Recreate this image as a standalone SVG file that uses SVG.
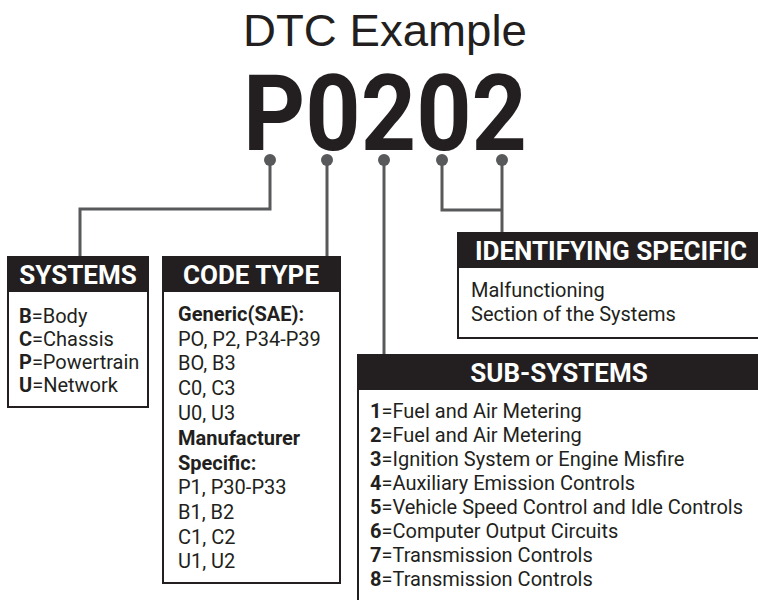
<svg xmlns="http://www.w3.org/2000/svg" width="758" height="600" viewBox="0 0 758 600">
<style>
.bg{fill:#ffffff}
.box{fill:#ffffff;stroke:#231f20;stroke-width:2}
.hdr{fill:#231f20}
.ht{font-family:Roboto,"Liberation Sans",sans-serif;font-weight:bold;font-size:26px;fill:#ffffff;text-anchor:middle}
.bt{font-family:Roboto,"Liberation Sans",sans-serif;font-size:20px;fill:#231f20}
.b{font-weight:bold}
.conn{fill:none;stroke:#58595b;stroke-width:3}
.dot{fill:#58595b}
</style>
<rect class="bg" x="0" y="0" width="758" height="600"/>
<g id="title">
<text x="385" y="46" font-family="'Liberation Sans',Arial,sans-serif" font-size="45" fill="#231f20" text-anchor="middle" textLength="284" lengthAdjust="spacingAndGlyphs">DTC Example</text>
<text x="243" y="150" font-family="Roboto,'Liberation Sans',sans-serif" font-weight="bold" font-size="105" fill="#231f20" textLength="284" lengthAdjust="spacingAndGlyphs">P0202</text>
</g>
<g id="connectors">
<polyline class="conn" points="270,160 270,209 80,209 80,257"/>
<line class="conn" x1="327" y1="160" x2="327" y2="257"/>
<line class="conn" x1="384" y1="160" x2="384" y2="355"/>
<polyline class="conn" points="442,160 442,210 502,210"/>
<line class="conn" x1="502" y1="160" x2="502" y2="233"/>
<circle class="dot" cx="270" cy="160" r="6"/>
<circle class="dot" cx="327" cy="160" r="6"/>
<circle class="dot" cx="384" cy="160" r="6"/>
<circle class="dot" cx="442" cy="160" r="6"/>
<circle class="dot" cx="502" cy="160" r="6"/>
</g>
<g id="systems">
<rect class="box" x="8" y="257" width="140" height="150"/>
<rect class="hdr" x="8" y="257" width="140" height="35"/>
<text class="ht" x="78" y="284">SYSTEMS</text>
<text class="bt" x="19" y="323"><tspan class="b">B</tspan>=Body</text>
<text class="bt" x="19" y="346"><tspan class="b">C</tspan>=Chassis</text>
<text class="bt" x="19" y="369"><tspan class="b">P</tspan>=Powertrain</text>
<text class="bt" x="19" y="392"><tspan class="b">U</tspan>=Network</text>
</g>
<g id="code-type">
<rect class="box" x="163" y="257" width="177" height="326"/>
<rect class="hdr" x="163" y="257" width="177" height="35"/>
<text class="ht" x="251" y="284">CODE TYPE</text>
<text class="bt b" x="178" y="321">Generic(SAE):</text>
<text class="bt" x="178" y="346">PO, P2, P34-P39</text>
<text class="bt" x="178" y="370">BO, B3</text>
<text class="bt" x="178" y="395">C0, C3</text>
<text class="bt" x="178" y="420">U0, U3</text>
<text class="bt b" x="178" y="445">Manufacturer</text>
<text class="bt b" x="178" y="470">Specific:</text>
<text class="bt" x="178" y="494">P1, P30-P33</text>
<text class="bt" x="178" y="519">B1, B2</text>
<text class="bt" x="178" y="544">C1, C2</text>
<text class="bt" x="178" y="568">U1, U2</text>
</g>
<g id="identifying-specific">
<rect class="box" x="458" y="233" width="310" height="105"/>
<rect class="hdr" x="458" y="233" width="310" height="35"/>
<text class="ht" x="611" y="260">IDENTIFYING SPECIFIC</text>
<text class="bt" x="471" y="297">Malfunctioning</text>
<text class="bt" x="471" y="321">Section of the Systems</text>
</g>
<g id="sub-systems">
<rect class="box" x="358" y="355" width="410" height="260"/>
<rect class="hdr" x="358" y="355" width="410" height="35"/>
<text class="ht" x="559" y="382">SUB-SYSTEMS</text>
<text class="bt" x="370" y="418"><tspan class="b">1</tspan>=Fuel and Air Metering</text>
<text class="bt" x="370" y="442"><tspan class="b">2</tspan>=Fuel and Air Metering</text>
<text class="bt" x="370" y="466"><tspan class="b">3</tspan>=Ignition System or Engine Misfire</text>
<text class="bt" x="370" y="490"><tspan class="b">4</tspan>=Auxiliary Emission Controls</text>
<text class="bt" x="370" y="514"><tspan class="b">5</tspan>=Vehicle Speed Control and Idle Controls</text>
<text class="bt" x="370" y="538"><tspan class="b">6</tspan>=Computer Output Circuits</text>
<text class="bt" x="370" y="562"><tspan class="b">7</tspan>=Transmission Controls</text>
<text class="bt" x="370" y="586"><tspan class="b">8</tspan>=Transmission Controls</text>
</g>
</svg>
